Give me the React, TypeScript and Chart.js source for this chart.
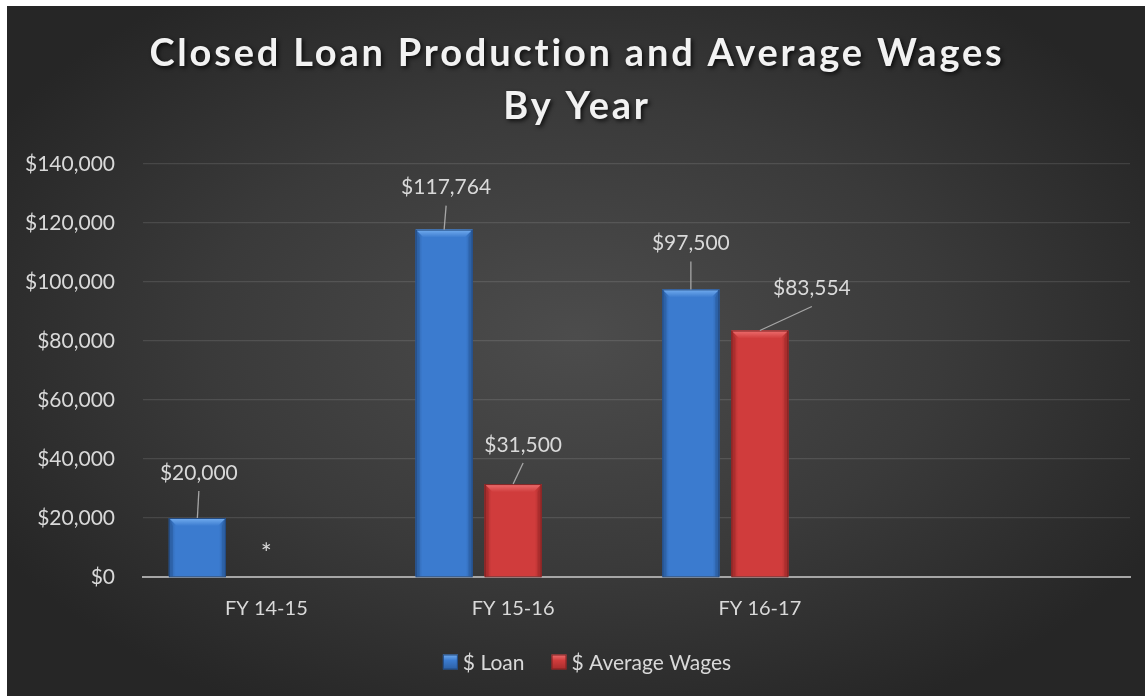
import React, { useEffect, useRef } from 'react';
import { Chart, registerables } from 'chart.js';

Chart.register(...registerables);

const TITLE_LINES = ['Closed Loan Production and Average Wages', 'By Year'];
const CATEGORIES = ['FY 14-15', 'FY 15-16', 'FY 16-17', ''];
const SERIES_NAMES = ['$ Loan', '$ Average Wages'];
const LOAN_VALUES: (number | null)[] = [20000, 117764, 97500, null];
const WAGE_VALUES: (number | null)[] = [null, 31500, 83554, null];
const EMPTY_VALUES: (number | null)[] = [null, null, null, null];
const WAGE_NOTES: (string | null)[] = ['*', null, null, null];
const Y_MIN = 0;
const Y_MAX = 140000;
const Y_STEP = 20000;

const FONT = 'Lato, "Open Sans", sans-serif';
const TEXT_COLOR = '#d9d9d9';

const BAR_STYLES = [
  { face: '#3b7bcf', edge: '#2c5fa3', light: '#74aef0', border: '#234a80' },
  { face: '#d03c3c', edge: '#a52c2c', light: '#ee7070', border: '#7d2323' },
];

// label offsets (px) from bar top centre, per dataset and category
const LABEL_OFFSETS: Record<number, ([number, number] | null)[]> = {
  0: [[1.5, -45], [2, -42], [0, -46], null],
  1: [[0, -29], [10, -39], [52, -42], null],
};

const fmt = (v: number) => '$' + v.toLocaleString('en-US');

const bgPlugin = {
  id: 'bgPlugin',
  beforeDraw(chart: any) {
    const { ctx, width, height } = chart;
    ctx.save();
    const cx = width * 0.5;
    const cy = height * 0.48;
    const sx = 1.6;
    ctx.translate(cx, cy);
    ctx.scale(sx, 1);
    const g = ctx.createRadialGradient(0, 0, 0, 0, 0, 420);
    g.addColorStop(0, '#4c4c4c');
    g.addColorStop(0.55, '#3a3a3a');
    g.addColorStop(1, '#262626');
    ctx.fillStyle = g;
    ctx.fillRect(-cx / sx - 2, -cy - 2, width / sx + 4, height + 4);
    ctx.restore();
  },
};

const titlePlugin = {
  id: 'titlePlugin',
  afterDraw(chart: any) {
    const { ctx, width } = chart;
    ctx.save();
    ctx.font = `bold 38px ${FONT}`;
    ctx.textAlign = 'center';
    ctx.textBaseline = 'alphabetic';
    ctx.fillStyle = '#f2f2f2';
    ctx.shadowColor = 'rgba(0,0,0,0.75)';
    ctx.shadowBlur = 4;
    ctx.shadowOffsetX = 2;
    ctx.shadowOffsetY = 2;
    (ctx as any).letterSpacing = '2.8px';
    const baselines = [60, 113];
    TITLE_LINES.forEach((line, i) => {
      ctx.fillText(line, width / 2 + 1, baselines[i]);
    });
    ctx.restore();
  },
};

const barLabelPlugin = {
  id: 'barLabelPlugin',
  afterDatasetsDraw(chart: any) {
    const { ctx } = chart;
    const yScale = chart.scales.y;
    // bevelled bars
    [0, 1].forEach((di) => {
      const meta = chart.getDatasetMeta(di);
      const st = BAR_STYLES[di];
      meta.data.forEach((bar: any, i: number) => {
        const v = chart.data.datasets[di].data[i];
        if (v === null || v === undefined) return;
        const { x, y, base, width } = bar.getProps(['x', 'y', 'base', 'width'], true);
        const l = x - width / 2;
        const r = x + width / 2;
        const t = y;
        const b = base;
        const bev = 8;
        const side = 4;
        ctx.save();
        const fg = ctx.createLinearGradient(l, 0, r, 0);
        fg.addColorStop(0, st.edge);
        fg.addColorStop(0.12, st.face);
        fg.addColorStop(0.88, st.face);
        fg.addColorStop(1, st.edge);
        ctx.fillStyle = fg;
        ctx.fillRect(l, t, width, b - t);
        // top bevel
        const tg = ctx.createLinearGradient(0, t, 0, t + bev);
        tg.addColorStop(0, st.light);
        tg.addColorStop(1, st.face);
        ctx.fillStyle = tg;
        ctx.beginPath();
        ctx.moveTo(l, t);
        ctx.lineTo(r, t);
        ctx.lineTo(r - bev, t + bev);
        ctx.lineTo(l + bev, t + bev);
        ctx.closePath();
        ctx.fill();
        // side bevels
        ctx.fillStyle = st.edge;
        ctx.globalAlpha = 0.7;
        ctx.beginPath();
        ctx.moveTo(l, t);
        ctx.lineTo(l + side, t + bev);
        ctx.lineTo(l + side, b);
        ctx.lineTo(l, b);
        ctx.closePath();
        ctx.fill();
        ctx.beginPath();
        ctx.moveTo(r, t);
        ctx.lineTo(r - side, t + bev);
        ctx.lineTo(r - side, b);
        ctx.lineTo(r, b);
        ctx.closePath();
        ctx.fill();
        ctx.globalAlpha = 1;
        ctx.strokeStyle = st.border;
        ctx.lineWidth = 1;
        ctx.strokeRect(l + 0.5, t + 0.5, width - 1, b - t);
        ctx.restore();
      });
    });
    // labels + leader lines
    ctx.save();
    ctx.fillStyle = TEXT_COLOR;
    ctx.textAlign = 'center';
    [0, 1].forEach((di) => {
      const meta = chart.getDatasetMeta(di);
      meta.data.forEach((bar: any, i: number) => {
        const v = chart.data.datasets[di].data[i];
        if (v === null || v === undefined) {
          const note = di === 1 ? WAGE_NOTES[i] : null;
          if (note) {
            ctx.font = `26px ${FONT}`;
            ctx.textBaseline = 'alphabetic';
            ctx.fillText(note, bar.x, yScale.getPixelForValue(0) - 14);
          }
          return;
        }
        ctx.font = `21px ${FONT}`;
        ctx.textBaseline = 'middle';
        const off = LABEL_OFFSETS[di][i] || [0, -40];
        const lx = bar.x + off[0];
        const ly = bar.y + off[1];
        ctx.fillText(fmt(v), lx, ly);
        ctx.strokeStyle = '#a6a6a6';
        ctx.lineWidth = 1.3;
        ctx.beginPath();
        ctx.moveTo(lx, ly + 18);
        ctx.lineTo(bar.x, bar.y);
        ctx.stroke();
      });
    });
    ctx.restore();
  },
};

const legendPlugin = {
  id: 'legendPlugin',
  afterDraw(chart: any) {
    const { ctx } = chart;
    ctx.save();
    ctx.font = `21px ${FONT}`;
    ctx.textBaseline = 'middle';
    ctx.textAlign = 'left';
    const box = 15;
    const gapText = 5;
    const gapItem = 27;
    const widths = SERIES_NAMES.map((n) => box + gapText + ctx.measureText(n).width);
    const total = widths.reduce((a, b) => a + b, 0) + gapItem * (widths.length - 1);
    let x = 580 - total / 2;
    const cy = 656;
    SERIES_NAMES.forEach((name, i) => {
      const st = BAR_STYLES[i];
      const g = ctx.createLinearGradient(0, cy - box / 2, 0, cy + box / 2);
      g.addColorStop(0, st.light);
      g.addColorStop(0.4, st.face);
      g.addColorStop(1, st.edge);
      ctx.fillStyle = g;
      ctx.fillRect(x, cy - box / 2, box, box);
      ctx.strokeStyle = st.border;
      ctx.lineWidth = 1;
      ctx.strokeRect(x + 0.5, cy - box / 2 + 0.5, box - 1, box - 1);
      ctx.fillStyle = TEXT_COLOR;
      ctx.fillText(name, x + box + gapText, cy + 1);
      x += widths[i] + gapItem;
    });
    ctx.restore();
  },
};

export default function App() {
  const ref = useRef<HTMLCanvasElement>(null);
  useEffect(() => {
    if (!ref.current) return;
    const chart = new Chart(ref.current, {
      type: 'bar',
      data: {
        labels: CATEGORIES,
        datasets: [
          { label: SERIES_NAMES[0], data: LOAN_VALUES, backgroundColor: BAR_STYLES[0].face },
          { label: SERIES_NAMES[1], data: WAGE_VALUES, backgroundColor: BAR_STYLES[1].face },
          { label: '', data: EMPTY_VALUES, backgroundColor: 'transparent' },
        ],
      },
      options: {
        responsive: false,
        animation: false,
        datasets: {
          bar: { categoryPercentage: 0.839, barPercentage: 0.826 },
        },
        layout: { padding: { top: 158, right: 15, left: 0, bottom: 0 } },
        plugins: {
          legend: { display: false },
          title: { display: false },
          tooltip: { enabled: false },
        },
        scales: {
          x: {
            grid: { display: false, drawTicks: false },
            border: { display: true, color: '#a6a6a6', width: 2 },
            ticks: { color: TEXT_COLOR, font: { family: FONT, size: 20 }, padding: 20 },
            afterFit: (s: any) => { s.height = 119; },
          },
          y: {
            min: Y_MIN,
            max: Y_MAX,
            grid: {
              color: (c: any) => (c.tick && c.tick.value === 0 ? 'transparent' : 'rgba(255,255,255,0.11)'),
              lineWidth: 1.3,
              drawTicks: false,
            },
            border: { display: false },
            ticks: {
              stepSize: Y_STEP,
              color: TEXT_COLOR,
              font: { family: FONT, size: 21 },
              padding: 28,
              callback: (v: any) => fmt(Number(v)),
            },
            afterFit: (s: any) => { s.width = 136; },
          },
        },
      },
      plugins: [bgPlugin, barLabelPlugin, legendPlugin, titlePlugin],
    } as any);
    return () => chart.destroy();
  }, []);
  return (
    <div style={{ position: 'absolute', left: 7, top: 6, width: 1138, height: 690 }}>
      <canvas ref={ref} width={1138} height={690} style={{ display: 'block', width: 1138, height: 690 }} />
    </div>
  );
}
